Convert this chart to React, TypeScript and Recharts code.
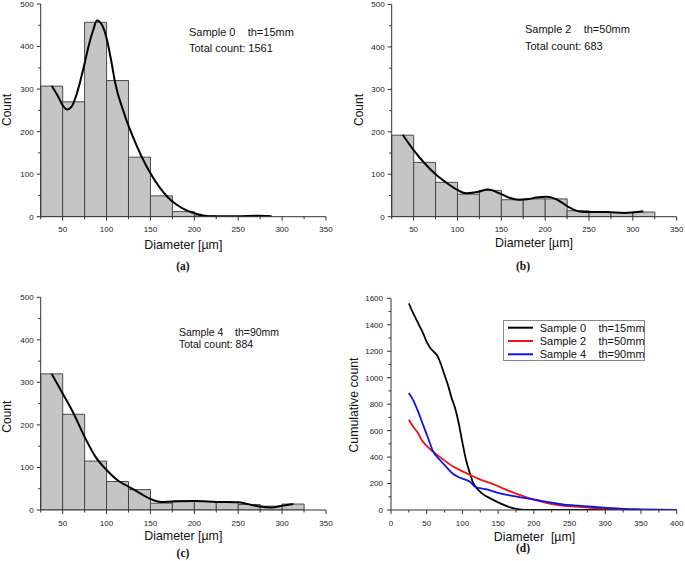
import React from 'react';
import { ComposedChart, LineChart, Bar, Line, XAxis, YAxis, Legend } from 'recharts';

// ---------- data ----------
const binStarts = [25, 50, 75, 100, 125, 150, 175, 200, 225, 250, 275, 300, 325];
const countsA = [307, 270, 457, 320, 140, 49, 12, 2, 0, 1, 0, 0, 0];
const countsB = [192, 128, 81, 53, 62, 40, 42, 42, 14, 11, 10, 11, 0];
const countsC = [320, 225, 115, 67, 48, 16, 21, 20, 18, 13, 9, 14, 0];

const curveAx = [37.5, 45, 50, 55, 60, 65, 70, 75, 80, 85, 89, 95, 100, 105, 110, 120, 130, 140, 150, 160, 170, 180, 190, 200, 210, 225, 250, 270, 288];
const curveAy = [308, 282, 262, 252, 258, 282, 318, 360, 405, 440, 461, 450, 420, 370, 313, 243, 188, 141, 102, 70, 45, 28, 16, 8, 3, 1, 1, 2, 1];

const curveBx = [37.5, 50, 62.5, 75, 87.5, 100, 110, 122, 135, 148, 160, 170, 180, 190, 202, 213, 226, 238, 250, 270, 290, 312];
const curveBy = [193, 157, 126, 100, 80, 63, 55, 58, 64, 55, 44, 40, 41, 45, 47, 41, 24, 13, 11, 11, 9, 13];

const curveCx = [37.5, 50, 62.5, 75, 87.5, 100, 112.5, 125, 137.5, 150, 162, 175, 200, 225, 250, 265, 275, 288, 300, 313];
const curveCy = [320, 274, 227, 172, 125, 94, 70, 55, 40, 26, 19, 20, 21, 19, 18, 12, 8, 6, 10, 14];

const cum0x = [25, 30, 35, 40, 45, 50, 55, 60, 65, 70, 75, 80, 85, 90, 95, 100, 105, 110, 115, 120, 125, 130, 139, 153, 167, 180, 195, 250, 300, 350, 400];
const cum0y = [1561, 1500, 1445, 1390, 1335, 1270, 1225, 1195, 1165, 1100, 1020, 940, 845, 765, 650, 510, 380, 285, 205, 165, 137, 115, 88, 50, 20, 5, 0, 0, 0, 0, 0];

const cum2x = [25, 31, 38, 43, 50, 59, 71, 87, 106, 122, 143, 166, 190, 213, 237, 260, 283, 307, 330, 350, 375, 400];
const cum2y = [683, 630, 580, 529, 484, 441, 390, 328, 277, 237, 195, 143, 96, 60, 35, 25, 15, 8, 3, 1, 0, 0];

const cum4x = [25, 31, 38, 45, 52, 59, 68.6, 78, 87, 96.6, 110.6, 117.6, 134, 152.6, 176, 199, 222.6, 246, 270, 293, 321, 350, 375, 400];
const cum4y = [884, 831, 743, 642, 542, 441, 378, 322, 272, 244, 214, 176, 156, 126, 101, 81, 58, 38, 30, 20, 10, 5, 2, 0];

const histXTicks = [25, 50, 75, 100, 125, 150, 175, 200, 225, 250, 275, 300, 325, 350];
const histYTicks = [0, 50, 100, 150, 200, 250, 300, 350, 400, 450, 500];
const cumXTicks = [0, 25, 50, 75, 100, 125, 150, 175, 200, 225, 250, 275, 300, 325, 350, 375, 400];
const cumYTicks = [0, 100, 200, 300, 400, 500, 600, 700, 800, 900, 1000, 1100, 1200, 1300, 1400, 1500, 1600];

const seriesNames = ['Sample 0    th=15mm', 'Sample 2    th=50mm', 'Sample 4    th=90mm'];
const seriesColors = ['#000000', '#ee1111', '#1111ee'];

// ---------- styles ----------
const FONT = '"Liberation Sans", Arial, sans-serif';
const AXIS = '#333333';
const TICKTEXT = '#222222';

const makeXTick = (majorStep: number) => (p: any) => {
  const { x, y, payload } = p;
  const major = payload.value % majorStep === 0;
  return (
    <g>
      <line x1={x} y1={y} x2={x} y2={y + (major ? 4 : 2.5)} stroke={AXIS} strokeWidth={1} />
      {major && (
        <text x={x} y={y + 15.5} textAnchor="middle" fontSize={8} fontFamily={FONT} fill={TICKTEXT}>
          {payload.value}
        </text>
      )}
    </g>
  );
};

const makeYTick = (majorStep: number, gap: number) => (p: any) => {
  const { x, y, payload } = p;
  const major = payload.value % majorStep === 0;
  return (
    <g>
      <line x1={x - (major ? 4 : 2.5)} y1={y} x2={x} y2={y} stroke={AXIS} strokeWidth={1} />
      {major && (
        <text x={x - gap} y={y + 2.9} textAnchor="end" fontSize={8} fontFamily={FONT} fill={TICKTEXT}>
          {payload.value}
        </text>
      )}
    </g>
  );
};

type Box = { x: number; y: number; w: number; h: number };
type Plot = { x0: number; x1: number; y0: number; y1: number };

// Y axis gets width 1, X axis gets height 1
const marginOf = (box: Box, plot: Plot) => ({
  left: plot.x0 - box.x - 1,
  right: box.x + box.w - plot.x1,
  top: plot.y0 - box.y,
  bottom: box.y + box.h - plot.y1 - 1,
});

function Hist({ box, plot, counts, cx, cy }: { box: Box; plot: Plot; counts: number[]; cx: number[]; cy: number[] }) {
  const data = binStarts.map((s, i) => ({ bin: s + 12.5, count: counts[i] }));
  const curve = cx.map((d, i) => ({ d, v: cy[i] }));
  return (
    <div style={{ position: 'absolute', left: box.x, top: box.y, width: box.w, height: box.h }}>
      <ComposedChart width={box.w} height={box.h} data={data} margin={marginOf(box, plot)} barCategoryGap={0} barGap={0}>
        <XAxis xAxisId="bins" dataKey="bin" type="category" orientation="top" height={0} hide />
        <XAxis
          xAxisId="num"
          dataKey="d"
          type="number"
          domain={[25, 350]}
          ticks={histXTicks}
          interval={0}
          tickSize={0}
          tickMargin={0}
          tick={makeXTick(50)}
          height={1}
          stroke={AXIS}
          allowDataOverflow
        />
        <YAxis
          domain={[0, 500]}
          ticks={histYTicks}
          interval={0}
          tickSize={0}
          tickMargin={0}
          tick={makeYTick(100, 7)}
          width={1}
          stroke={AXIS}
          allowDataOverflow
        />
        <Bar xAxisId="bins" dataKey="count" fill="#c5c5c5" stroke="#3a3a3a" strokeWidth={0.9} isAnimationActive={false} />
        <Line xAxisId="num" data={curve} dataKey="v" type="monotone" stroke="#000" strokeWidth={2} dot={false} isAnimationActive={false} />
      </ComposedChart>
    </div>
  );
}

const LegendBox = (props: any) => {
  const payload = props.payload || [];
  return (
    <svg width={142} height={41} style={{ display: 'block' }}>
      <rect x={0.5} y={0.5} width={141} height={40} fill="#fff" stroke="#888" strokeWidth={1} />
      {payload.map((e: any, i: number) => {
        const yy = 7.7 + i * 13.3;
        return (
          <g key={i}>
            <line x1={5} x2={30} y1={yy} y2={yy} stroke={e.color} strokeWidth={2} />
            <text x={36.7} y={yy + 3.8} fontSize={11} fontFamily={FONT} fill="#111" style={{ whiteSpace: 'pre' }}>
              {e.value}
            </text>
          </g>
        );
      })}
    </svg>
  );
};

function Cumulative() {
  const box: Box = { x: 340, y: 280, w: 345, h: 281 };
  const plot: Plot = { x0: 391, x1: 676.7, y0: 298.3, y1: 510 };
  const sets = [
    cum0x.map((d, i) => ({ d, v: cum0y[i] })),
    cum2x.map((d, i) => ({ d, v: cum2y[i] })),
    cum4x.map((d, i) => ({ d, v: cum4y[i] })),
  ];
  return (
    <div style={{ position: 'absolute', left: box.x, top: box.y, width: box.w, height: box.h }}>
      <LineChart width={box.w} height={box.h} margin={marginOf(box, plot)}>
        <XAxis
          dataKey="d"
          type="number"
          domain={[0, 400]}
          ticks={cumXTicks}
          interval={0}
          tickSize={0}
          tickMargin={0}
          tick={makeXTick(50)}
          height={1}
          stroke={AXIS}
          allowDataOverflow
        />
        <YAxis
          domain={[0, 1600]}
          ticks={cumYTicks}
          interval={0}
          tickSize={0}
          tickMargin={0}
          tick={makeYTick(200, 8)}
          width={1}
          stroke={AXIS}
          allowDataOverflow
        />
        {sets.map((s, i) => (
          <Line
            key={i}
            data={s}
            dataKey="v"
            name={seriesNames[i]}
            type="monotone"
            stroke={seriesColors[i]}
            strokeWidth={1.8}
            dot={false}
            isAnimationActive={false}
          />
        ))}
        <Legend
          layout="vertical"
          verticalAlign="middle"
          align="center"
          content={LegendBox}
          wrapperStyle={{ left: 163.3, top: 40, width: 142, height: 41 }}
        />
      </LineChart>
    </div>
  );
}

const T = (p: any) => (
  <text fontFamily={FONT} fill="#111" style={{ whiteSpace: 'pre' }} {...p} />
);
const Cap = (p: any) => (
  <text fontFamily='"Liberation Serif", "Times New Roman", serif' fontWeight="bold" fontSize={11.5} fill="#111" textAnchor="middle" {...p} />
);

export default function App() {
  return (
    <div style={{ position: 'absolute', left: 0, top: 0, width: 685, height: 561, background: '#fff', overflow: 'hidden' }}>
      <Hist box={{ x: 0, y: 0, w: 340, h: 280 }} plot={{ x0: 40.7, x1: 326, y0: 4, y1: 216.7 }} counts={countsA} cx={curveAx} cy={curveAy} />
      <Hist box={{ x: 340, y: 0, w: 345, h: 280 }} plot={{ x0: 391.7, x1: 676.7, y0: 4.5, y1: 216.7 }} counts={countsB} cx={curveBx} cy={curveBy} />
      <Hist box={{ x: 0, y: 280, w: 340, h: 281 }} plot={{ x0: 40.7, x1: 326, y0: 297.3, y1: 510 }} counts={countsC} cx={curveCx} cy={curveCy} />
      <Cumulative />
      <svg width={685} height={561} style={{ position: 'absolute', left: 0, top: 0, pointerEvents: 'none' }}>
        {/* panel a */}
        <T x={10.5} y={110} fontSize={12} textAnchor="middle" transform="rotate(-90 10.5 110)">Count</T>
        <T x={183.3} y={249.3} fontSize={12.4} textAnchor="middle">Diameter [µm]</T>
        <T x={189} y={36} fontSize={11}>Sample 0    th=15mm</T>
        <T x={189} y={52.3} fontSize={11}>Total count: 1561</T>
        <Cap x={183} y={269.5}>(a)</Cap>
        {/* panel b */}
        <T x={362.5} y={110} fontSize={12} textAnchor="middle" transform="rotate(-90 362.5 110)">Count</T>
        <T x={534} y={246.7} fontSize={12.4} textAnchor="middle">Diameter [µm]</T>
        <T x={525} y={33.3} fontSize={11}>Sample 2    th=50mm</T>
        <T x={525} y={50} fontSize={11}>Total count: 683</T>
        <Cap x={523} y={269.5}>(b)</Cap>
        {/* panel c */}
        <T x={10.7} y={416.7} fontSize={12} textAnchor="middle" transform="rotate(-90 10.7 416.7)">Count</T>
        <T x={183.3} y={540} fontSize={12.4} textAnchor="middle">Diameter [µm]</T>
        <T x={179} y={336} fontSize={10.5}>Sample 4    th=90mm</T>
        <T x={179} y={348} fontSize={10.5}>Total count: 884</T>
        <Cap x={183} y={557}>(c)</Cap>
        {/* panel d */}
        <T x={358} y={405} fontSize={12.3} textAnchor="middle" transform="rotate(-90 358 405)">Cumulative count</T>
        <T x={534.5} y={540.5} fontSize={12.4} textAnchor="middle">Diameter  [µm]</T>
        <Cap x={523} y={552}>(d)</Cap>
      </svg>
    </div>
  );
}
